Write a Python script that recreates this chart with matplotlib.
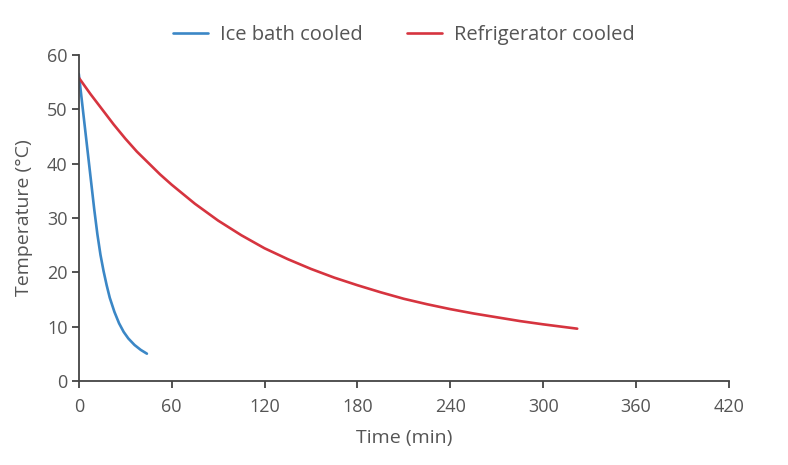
import matplotlib.pyplot as plt

# --- data ---
ICE_TIME = [0, 2, 4, 6, 8, 10, 12, 14, 16, 18, 20, 23, 26, 29, 32, 36, 40, 44]
ICE_TEMP = [56.5, 51.5, 46.5, 41.5, 36.5, 31.5, 27.0, 23.2, 20.2, 17.6, 15.3, 12.7,
            10.6, 9.0, 7.8, 6.6, 5.7, 5.0]

FRIDGE_TIME = [0, 7.5, 15, 22.5, 30, 37.5, 45, 52.5, 60, 75, 90, 105, 120, 135,
               150, 165, 180, 195, 210, 225, 240, 255, 270, 285, 300, 311, 322]
FRIDGE_TEMP = [55.8, 52.8, 50.0, 47.2, 44.6, 42.2, 40.1, 38.0, 36.1, 32.6, 29.5,
               26.8, 24.4, 22.4, 20.6, 19.0, 17.6, 16.3, 15.1, 14.1, 13.2, 12.4,
               11.7, 11.0, 10.4, 10.0, 9.6]

X_TICKS = [0, 60, 120, 180, 240, 300, 360, 420]
Y_TICKS = [0, 10, 20, 30, 40, 50, 60]

BLUE = "#3b87c6"
RED = "#d6343f"
TEXT = "#555555"
AXIS = "#444444"

plt.rcParams["font.family"] = ["Open Sans", "DejaVu Sans"]

fig = plt.figure(figsize=(7.88, 4.65), dpi=100)
ax = fig.add_axes([0.100, 0.181, 0.825, 0.701])

ax.plot(ICE_TIME, ICE_TEMP, color=BLUE, lw=1.9, label="Ice bath cooled",
        solid_capstyle="round", solid_joinstyle="round")
ax.plot(FRIDGE_TIME, FRIDGE_TEMP, color=RED, lw=1.9, label="Refrigerator cooled",
        solid_capstyle="round", solid_joinstyle="round")

ax.set_xlim(0, 420)
ax.set_ylim(0, 60)
ax.set_xticks(X_TICKS)
ax.set_yticks(Y_TICKS)

for side in ("top", "right"):
    ax.spines[side].set_visible(False)
for side in ("left", "bottom"):
    ax.spines[side].set_color(AXIS)
    ax.spines[side].set_linewidth(1.3)

ax.tick_params(axis="both", direction="out", length=5, width=1.3,
               color=AXIS, labelcolor=TEXT, labelsize=13)
ax.tick_params(axis="x", pad=7)
ax.tick_params(axis="y", pad=3)

ax.set_xlabel("Time (min)", fontsize=14, color=TEXT, labelpad=10)
ax.set_ylabel("Temperature (\u00b0C)", fontsize=14, color=TEXT, labelpad=10)

ax.legend(loc="center", bbox_to_anchor=(0.5, 1.06), ncol=2, frameon=False,
          fontsize=14.5, labelcolor=TEXT, handlelength=1.75, columnspacing=2.2,
          handletextpad=0.6)

fig.savefig("out.png", dpi=100)
